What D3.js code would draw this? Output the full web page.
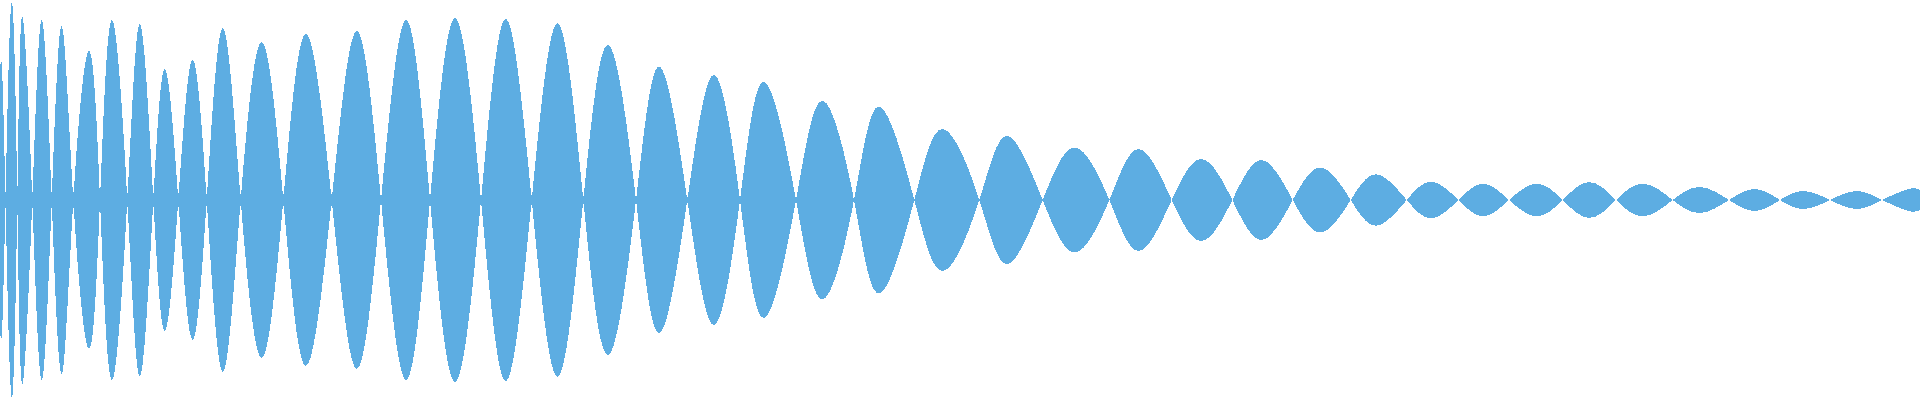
<!DOCTYPE html>
<html>
<head>
<meta charset="utf-8">
<script src="https://cdn.jsdelivr.net/npm/d3@7"></script>
<style>
  html, body { margin: 0; padding: 0; background: #ffffff; }
  svg { display: block; }
</style>
</head>
<body>
<div id="chart"></div>
<script>
// Envelope of the waveform: sample position and signed amplitude (lobes alternate sign)
const sampleIndex = [
  0, 2, 5.5, 11.7, 17.3, 22.3, 32.3, 41.7, 51.7, 61.7, 73.3, 89, 100, 111.7, 127.3, 140, 153.3,
  165, 178.3, 192.3, 206.7, 222.7, 240.7, 261.7, 283.3, 305.7, 331.7, 356.7, 381, 406, 430,
  455, 481, 505.7, 531.7, 557.7, 583.3, 608.3, 636, 659.3, 687.3, 714, 740, 764, 796,
  822.7, 854, 879.3, 914.3, 943.3, 979.3, 1007.3, 1042.7, 1075, 1109.3, 1139, 1171.7,
  1201.7, 1232.3, 1261.7, 1292.7, 1321, 1350.7, 1376.7, 1406.7, 1431.7, 1458.3,
  1483.3, 1509, 1536.7, 1562.7, 1589.3, 1616, 1643.3, 1672.7, 1700, 1729, 1755, 1780,
  1803.3, 1830, 1856.7, 1882.3, 1908.3, 1920
];
const amplitude = [
  0.64, 0.66, 0, -0.99, 0, 0.92, 0, -0.90, 0, 0.87, 0, -0.745, 0, 0.90, 0, -0.88, 0,
  0.655, 0, -0.70, 0, 0.86, 0, -0.79, 0, 0.83, 0, -0.845, 0, 0.90, 0,
  -0.91, 0, 0.905, 0, -0.883, 0, 0.775, 0, -0.667, 0, 0.625, 0, -0.59, 0,
  0.497, 0, -0.467, 0, 0.355, 0, -0.32, 0, 0.262, 0, -0.255, 0,
  0.205, 0, -0.20, 0, 0.162, 0, -0.128, 0, 0.092, 0,
  -0.082, 0, 0.082, 0, -0.09, 0, 0.082, 0, -0.065, 0, 0.055, 0,
  -0.045, 0, 0.045, 0, -0.055, -0.05
];
// Residual level where lobes meet
const floorIndex = [0, 160, 330, 480, 690, 855, 980, 1110, 1920];
const floorLevel = [0.042, 0.034, 0.028, 0.025, 0.016, 0.008, 0.004, 0.002, 0.001];

const width = 1920, height = 400;
const fillColor = "#5dade2";

const x = d3.scaleLinear().domain([0, 1920]).range([0, width]);
const y = d3.scaleLinear().domain([-1, 1]).range([height, 0]);

const svg = d3.select("#chart").append("svg")
  .attr("width", width).attr("height", height)
  .attr("viewBox", [0, 0, width, height]);

const env = sampleIndex.map((t, i) => ({ t, v: amplitude[i] }));
const flo = floorIndex.map((t, i) => ({ t, v: floorLevel[i] }));

const envArea = d3.area()
  .x(d => x(d.t))
  .y0(d => y(-d.v))
  .y1(d => y(d.v))
  .curve(d3.curveNatural);

const floorArea = d3.area()
  .x(d => x(d.t))
  .y0(d => y(-d.v))
  .y1(d => y(d.v));

svg.append("path")
  .datum(flo)
  .attr("d", floorArea)
  .attr("fill", fillColor)
  .attr("shape-rendering", "crispEdges");

svg.append("path")
  .datum(env)
  .attr("d", envArea)
  .attr("fill", fillColor)
  .attr("fill-rule", "nonzero")
  .attr("shape-rendering", "crispEdges");
</script>
</body>
</html>
